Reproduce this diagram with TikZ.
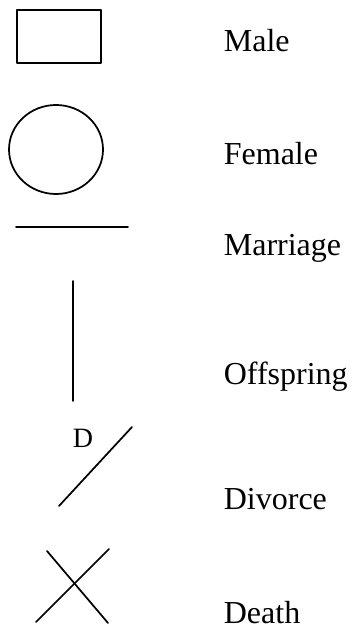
\documentclass[tikz,border=0pt]{standalone}
\usepackage{fontspec}
\setmainfont{Liberation Serif}
\usetikzlibrary{shapes.geometric}
\tikzstyle{every path}=[line width=1.3pt, line cap=round, line join=round]
\tikzstyle{keytext}=[anchor=base west, inner sep=0pt, font=\fontsize{24}{28}\selectfont]

\begin{document}
\begin{tikzpicture}[x=0.75pt, y=-0.75pt]
          \useasboundingbox (0,0) rectangle (352,630);
          %hombre
          \node[draw, rectangle, minimum width=63pt, minimum height=39.75pt, inner sep=0pt] (male) at (59,36.5) {};
          \node[keytext] (maletxt) at (223,52) {Male};
          %mujer
          \node[draw, ellipse, minimum width=70.5pt, minimum height=66.75pt, inner sep=0pt] (female) at (56,149.5) {};
          \node[keytext] (femaletxt) at (223,165) {Female};
          %matrimonio
          \coordinate (mar1) at (16,227);
          \coordinate (mar2) at (128,227);
          \draw (mar1) -- (mar2);
          \node[keytext] (martxt) at (223,256) {Marriage};
          %hijos
          \coordinate (off1) at (73,281);
          \coordinate (off2) at (73,401);
          \draw (off1) -- (off2);
          \node[keytext] (offtxt) at (223,384) {Offspring};
          %divorcio
          \coordinate (div1) at (59,506);
          \coordinate (div2) at (132,427);
          \draw (div1) -- (div2);
          \node[anchor=base west, inner sep=0pt, font=\fontsize{21}{25}\selectfont] (dlabel) at (72,447) {D};
          \node[keytext] (divtxt) at (223,509) {Divorce};
          %muerte
          \coordinate (x1) at (47,551);
          \coordinate (x2) at (108,623);
          \coordinate (x3) at (36,622);
          \coordinate (x4) at (109,549);
          \draw (x1) -- (x2);
          \draw (x3) -- (x4);
          \node[keytext] (deathtxt) at (223,623) {Death};
\end{tikzpicture}
\end{document}
